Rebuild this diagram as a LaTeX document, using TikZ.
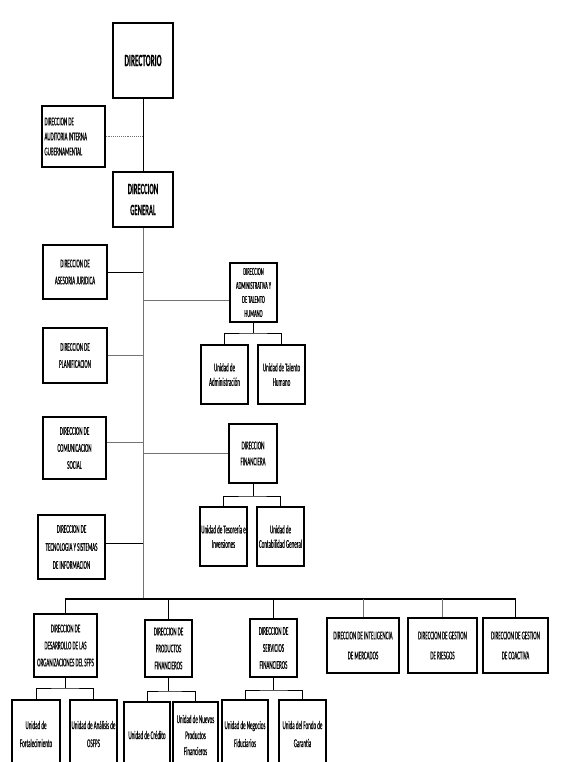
\documentclass[tikz,border=0pt]{standalone}
\usepackage{fontspec}
\setmainfont{Carlito}[FakeStretch=0.42, RawFeature={embolden=0.2}]
\begin{document}
\begin{tikzpicture}[x=1pt,y=-1pt,
  base/.style={draw=black, fill=white, align=center, inner sep=1pt,
    font=\fontsize{12}{14.5}\selectfont},
  thin box/.style={base, line width=1.3pt},
  thick box/.style={base, line width=2pt},
  conn/.style={line width=0.9pt, black},
  gconn/.style={line width=0.9pt, black!55}]
\useasboundingbox (0,0) rectangle (567,762);
\clip (0,0) rectangle (567,762);

% top
\node[thick box, minimum width=60pt, minimum height=75pt, font=\fontsize{17.3}{18}\selectfont\bfseries] (dir) at (143,60.5) {DIRECTORIO};
\node[thin box, minimum width=63pt, minimum height=61pt, align=flush left, text width=58pt, font=\fontsize{12}{15}\selectfont] (aud) at (73.5,136.5) {DIRECCION DE\\AUDITORIA INTERNA\\GUBERNAMENTAL};
\node[thick box, minimum width=60pt, minimum height=55pt, font=\fontsize{15.7}{21}\selectfont\bfseries] (gen) at (143,199.5) {DIRECCION\\GENERAL};

% staff left
\node[thin box, minimum width=64pt, minimum height=54pt, font=\fontsize{12}{17}\selectfont] (ase) at (75,272) {DIRECCION DE\\ASESORIA JURIDICA};
\node[thin box, minimum width=64pt, minimum height=55pt, font=\fontsize{12}{17}\selectfont] (pla) at (75,355.5) {DIRECCION DE\\PLANIFICACION};
\node[thin box, minimum width=63pt, minimum height=62pt, font=\fontsize{12}{17}\selectfont] (com) at (74.5,448) {DIRECCION DE\\COMUNICACION\\SOCIAL};
\node[thin box, minimum width=67pt, minimum height=64pt, font=\fontsize{12}{18}\selectfont] (tec) at (71.5,547) {DIRECCION DE\\TECNOLOGIA Y SISTEMAS\\DE INFORMACION};

% right middle
\node[thick box, minimum width=47pt, minimum height=59pt, font=\fontsize{10.8}{14}\selectfont] (adm) at (253.5,292.5) {DIRECCION\\ADMINISTRATIVA Y\\DE TALENTO\\HUMANO};
\node[thick box, minimum width=47pt, minimum height=59pt] (uad) at (224.5,374.5) {Unidad de\\Administración};
\node[thick box, minimum width=47pt, minimum height=59pt] (uth) at (281.5,374.5) {Unidad de Talento\\Humano};
\node[thick box, minimum width=48pt, minimum height=59pt, font=\fontsize{12}{16}\selectfont] (fin) at (253,453.5) {DIRECCION\\FINANCIERA};
\node[thick box, minimum width=47pt, minimum height=59pt] (ute) at (223.5,536.5) {Unidad de Tesorería e\\Inversiones};
\node[thick box, minimum width=47pt, minimum height=59pt] (ucg) at (280.5,536.5) {Unidad de\\Contabilidad General};

% bottom row
\node[thick box, minimum width=63pt, minimum height=63pt, font=\fontsize{12}{17}\selectfont] (des) at (65.5,645.5) {DIRECCION DE\\DESARROLLO DE LAS\\ORGANIZACIONES DEL SFPS};
\node[thick box, minimum width=47pt, minimum height=57pt, font=\fontsize{12}{17}\selectfont] (pro) at (168.5,648.5) {DIRECCION DE\\PRODUCTOS\\FINANCIEROS};
\node[thick box, minimum width=47pt, minimum height=58pt, font=\fontsize{12}{17}\selectfont] (ser) at (273.5,648) {DIRECCION DE\\SERVICIOS\\FINANCIEROS};
\node[thin box, minimum width=72pt, minimum height=55pt, font=\fontsize{12}{20}\selectfont] (mer) at (363,645.5) {DIRECCION DE INTELIGENCIA\\DE MERCADOS};
\node[thin box, minimum width=69pt, minimum height=55pt, font=\fontsize{12}{20}\selectfont] (rie) at (442.5,645.5) {DIRECCION DE GESTION\\DE RIESGOS};
\node[thin box, minimum width=65pt, minimum height=55pt, font=\fontsize{12}{20}\selectfont] (coa) at (515.5,645.5) {DIRECCION DE GESTION\\DE COACTIVA};

% bottom units (cut by page edge)
\node[thick box, minimum width=48pt, minimum height=68pt, font=\fontsize{12}{18}\selectfont] (ufo) at (36,734) {Unidad de\\Fortalecimiento};
\node[thick box, minimum width=47pt, minimum height=68pt, font=\fontsize{12}{18}\selectfont] (uan) at (93.5,734) {Unidad de Análisis de\\OSFPS};
\node[thick box, minimum width=46pt, minimum height=66pt] (ucr) at (147,735) {Unidad de Crédito};
\node[thick box, minimum width=45pt, minimum height=66pt, font=\fontsize{12}{16}\selectfont] (unp) at (195.5,735) {Unidad de Nuevos\\Productos\\Financieros};
\node[thick box, minimum width=46pt, minimum height=68pt, font=\fontsize{12}{18}\selectfont] (uneg) at (245,734) {Unidad de Negocios\\Fiduciarios};
\node[thick box, minimum width=47pt, minimum height=68pt, font=\fontsize{12}{18}\selectfont] (ufg) at (302.5,734) {Unida del Fondo de\\Garantía};

% junction coordinates
\coordinate (bus) at (143,599);
\coordinate (admj) at (253.5,333);
\coordinate (finj) at (253,496);
\coordinate (desj) at (65.5,688);
\coordinate (proj) at (168.5,691);
\coordinate (serj) at (273.5,690);

% connectors
\draw[conn] (dir.south) -- (gen.north);
\draw[gconn, densely dotted] (aud.east) -- (aud.east -| dir.south);
\draw[gconn] (gen.south) -- (bus);
\draw[conn] (ase.east) -- (ase.east -| gen.south);
\draw[gconn] (pla.east) -- (pla.east -| gen.south);
\draw[gconn] ([yshift=6pt]com.east) -- ([yshift=6pt]com.east -| gen.south);
\draw[conn] ([yshift=4pt]tec.east) -- ([yshift=4pt]tec.east -| gen.south);
\draw[gconn] ([yshift=-7.5pt]adm.west) -- ([yshift=-7.5pt]adm.west -| gen.south);
\draw[gconn] (fin.west) -- (fin.west -| gen.south);

\draw[conn] (adm.south) -- (admj);
\draw[conn] (uad.north) |- (admj) -| (uth.north);
\draw[conn] (fin.south) -- (finj);
\draw[conn] (ute.north) |- (finj) -| (ucg.north);

\draw[line width=1.3pt] (des.north) |- (bus) -| (coa.north);
\draw[conn] (pro.north) -- (pro.north |- bus);
\draw[conn] (ser.north) -- (ser.north |- bus);
\draw[gconn] (mer.north) -- (mer.north |- bus);
\draw[gconn] (rie.north) -- (rie.north |- bus);

\draw[conn] (des.south) -- (desj);
\draw[conn] (ufo.north) |- (desj) -| (uan.north);
\draw[conn] (pro.south) -- (proj);
\draw[conn] (ucr.north) |- (proj) -| (unp.north);
\draw[conn] (ser.south) -- (serj);
\draw[conn] (uneg.north) |- (serj) -| (ufg.north);
\end{tikzpicture}
\end{document}
